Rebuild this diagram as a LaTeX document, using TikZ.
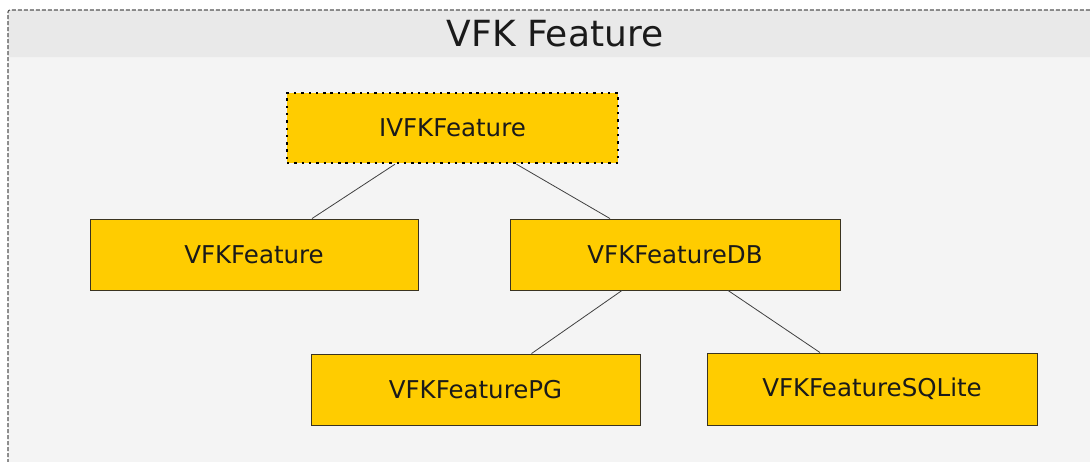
\documentclass[tikz,border=0pt]{standalone}
\usepackage{fontspec}
\setmainfont{DejaVu Sans}
\definecolor{boxfill}{HTML}{FFCC00}
\definecolor{boxline}{HTML}{3A3320}
\definecolor{headfill}{HTML}{E9E9E9}
\definecolor{bodyfill}{HTML}{F4F4F4}
\definecolor{frameline}{HTML}{555555}
\definecolor{txt}{HTML}{1A1A1A}
\begin{document}
\begin{tikzpicture}[x=1pt,y=-1pt,
  classbox/.style={draw=boxline, line width=0.9pt, fill=boxfill, minimum width=329pt, minimum height=71pt, inner sep=0pt, text=txt, font=\fontsize{24.5}{28}\selectfont},
  ifacebox/.style={classbox, draw=black, line width=2.4pt, dash pattern=on 2.4pt off 4.9pt},
  link/.style={draw=black!75, line width=0.8pt}]
\useasboundingbox (0,0) rectangle (1090,461);
\fill[white] (0,0) rectangle (1090,461);
\fill[bodyfill] (8,10) rectangle (1092,463);
\fill[headfill, rounded corners=2pt] (8,10) rectangle (1092,57);
\draw[frameline, line width=1.1pt, dash pattern=on 4pt off 2pt, rounded corners=2pt] (8,463) -- (8,10) -- (1092,10);
\node[text=txt, font=\fontsize{36}{40}\selectfont] (title) at (555,34) {VFK Feature};
\node[ifacebox, minimum width=331pt, minimum height=70pt] (i) at (452.5,128) {IVFKFeature};
\node[classbox, minimum width=328pt] (a) at (254,254.5) {VFKFeature};
\node[classbox, minimum width=330pt] (d) at (675,254.5) {VFKFeatureDB};
\node[classbox] (p) at (475.5,389.5) {VFKFeaturePG};
\node[classbox, minimum width=330pt, minimum height=72pt] (s) at (872,389) {VFKFeatureSQLite};
\draw[link] ([xshift=-57.5pt]i.south) -- ([xshift=58pt]a.north);
\draw[link] ([xshift=64pt]i.south) -- ([xshift=-65pt]d.north);
\draw[link] ([xshift=-53pt]d.south) -- ([xshift=56pt]p.north);
\draw[link] ([xshift=53pt]d.south) -- ([xshift=-52pt]s.north);
\end{tikzpicture}
\end{document}
